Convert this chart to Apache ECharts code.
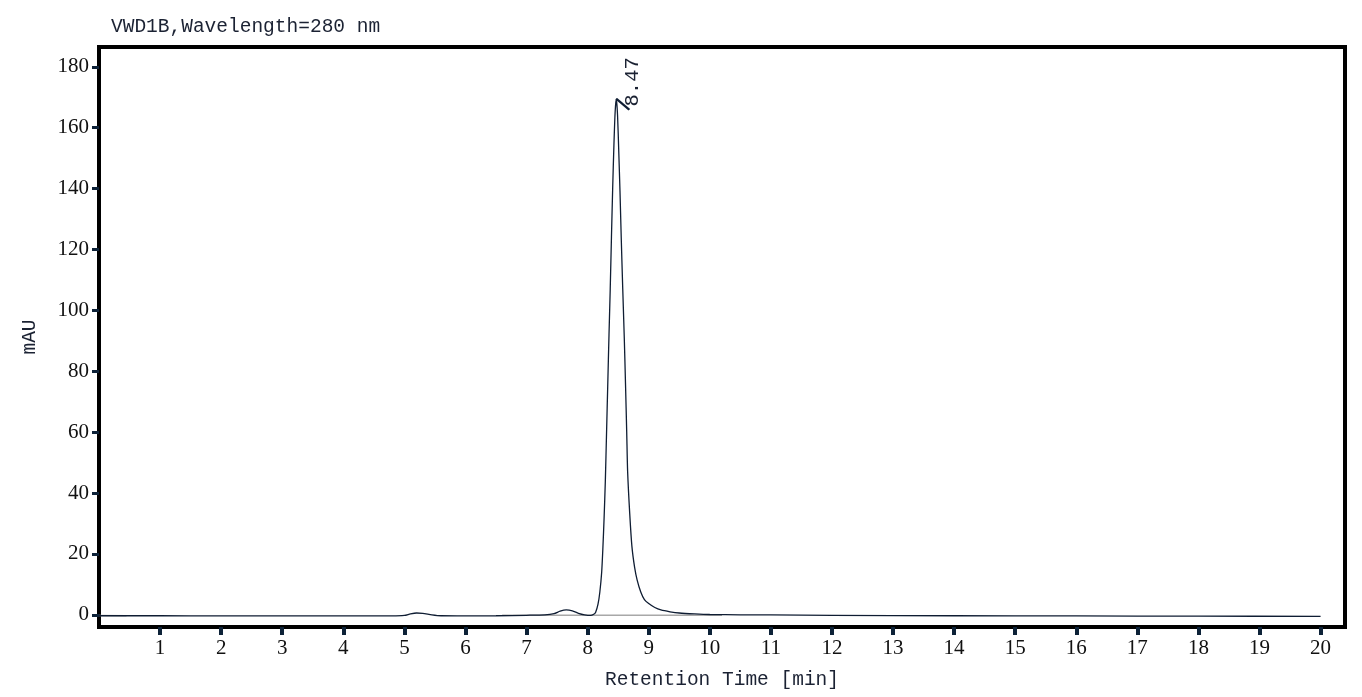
<!DOCTYPE html>
<html>
<head>
<meta charset="utf-8">
<script src="https://cdn.jsdelivr.net/npm/echarts@6/dist/echarts.min.js"></script>
<style>
html,body{margin:0;padding:0;background:#fff;}
#chart{width:1362px;height:697px;}
</style>
</head>
<body>
<div id="chart"></div>
<script>
// detector trace
var times=[0,1,2,3,4,4.8,5,5.1,5.2,5.3,5.45,5.6,6,6.5,7,7.3,7.45,7.55,7.65,7.75,7.85,7.95,8.05,8.1,8.13,8.17,8.2,8.23,8.25,8.27,8.29,8.31,8.33,8.35,8.37,8.39,8.41,8.43,8.45,8.47,8.49,8.51,8.53,8.55,8.575,8.6,8.62,8.64,8.655,8.69,8.725,8.77,8.81,8.87,8.93,9,9.1,9.2,9.35,9.5,9.75,10,10.5,11,12,14,16,18,20];
var signal=[-0.3,-0.3,-0.35,-0.35,-0.35,-0.35,-0.2,0.3,0.6,0.5,0,-0.3,-0.35,-0.3,-0.15,0,0.4,1.2,1.6,1.3,0.5,0,-0.2,0.2,0.8,3.5,7.5,14,22,32,44,60,76,92,107,124,140,154,165,169.5,164,152,139,124,107,91,76,60,47,33,22.5,15.5,11.5,7.5,5,3.7,2.4,1.6,1,0.6,0.3,0.1,0,-0.05,-0.15,-0.3,-0.35,-0.45,-0.5];
var baseTimes=[0,0.45,null,6.6,10.2];
var baseValues=[-0.25,-0.3,null,-0.15,-0.1];
var xTicks=[1,2,3,4,5,6,7,8,9,10,11,12,13,14,15,16,17,18,19,20];
var yTicks=[0,20,40,60,80,100,120,140,160,180];
var peakTime=8.47, peakHeight=169.5, peakLabel='8.47';

var chart=echarts.init(document.getElementById('chart'));
var trace=[];
for(var i=0;i<times.length;i++){ trace.push([times[i],signal[i]]); }
var base=[];
for(var j=0;j<baseTimes.length;j++){ base.push(baseTimes[j]===null?[null,null]:[baseTimes[j],baseValues[j]]); }

var mono='"Liberation Mono", "DejaVu Sans Mono", monospace';
var serif='"Liberation Serif", "DejaVu Serif", serif';
chart.setOption({
	backgroundColor:'#fff',
	animation:false,
	title:{
		text:'VWD1B,Wavelength=280 nm',
		left:106, top:12,
		textStyle:{fontFamily:mono,fontSize:19.5,fontWeight:'normal',color:'#1b2233'}
	},
	grid:{left:99,right:17,top:47,bottom:70,containLabel:false,outerBoundsMode:'none',
		show:true,borderColor:'#000',borderWidth:4,backgroundColor:'#fff'},
	xAxis:{
		type:'value', min:0, max:20.4,
		name:'Retention Time [min]', nameLocation:'middle', nameGap:43,
		nameTextStyle:{fontFamily:mono,fontSize:19.5,color:'#1b2233'},
		axisLine:{show:true,onZero:false,lineStyle:{color:'#000',width:4}},
		axisTick:{show:true,length:8,customValues:xTicks,lineStyle:{color:'#0d2238',width:4}},
		axisLabel:{customValues:xTicks,margin:11,fontFamily:serif,fontSize:21,color:'#111'},
		splitLine:{show:false}
	},
	yAxis:{
		type:'value', min:-4, max:186.5,
		name:'mAU', nameLocation:'middle', nameGap:59,
		nameTextStyle:{fontFamily:mono,fontSize:19.5,color:'#1b2233'},
		axisLine:{show:true,onZero:false,lineStyle:{color:'#000',width:4}},
		axisTick:{show:true,length:7,customValues:yTicks,lineStyle:{color:'#0d2238',width:3}},
		axisLabel:{customValues:yTicks,margin:10,fontFamily:serif,fontSize:21,color:'#111'},
		splitLine:{show:false}
	},
	series:[{
		type:'line', data:base, showSymbol:false, silent:true, connectNulls:false,
		lineStyle:{color:'#a8a8a8',width:1.5}, z:1
	},{
		type:'line', data:trace, showSymbol:false, smooth:0.25,
		lineStyle:{color:'#0f1d33',width:1.3}, z:2,
		markPoint:{
			symbol:'path://M0,0L13,11',
			symbolSize:[13,11],
			symbolKeepAspect:false,
			symbolOffset:[6.5,5.5],
			itemStyle:{color:'none',borderColor:'#0f1d33',borderWidth:2.2},
			label:{
				show:true, formatter:peakLabel, rotate:90,
				position:[19,10], align:'left', verticalAlign:'middle',
				fontFamily:mono, fontSize:20.5, color:'#1b2233'
			},
			data:[{coord:[peakTime,peakHeight]}]
		}
	}]
});
</script>
</body>
</html>
